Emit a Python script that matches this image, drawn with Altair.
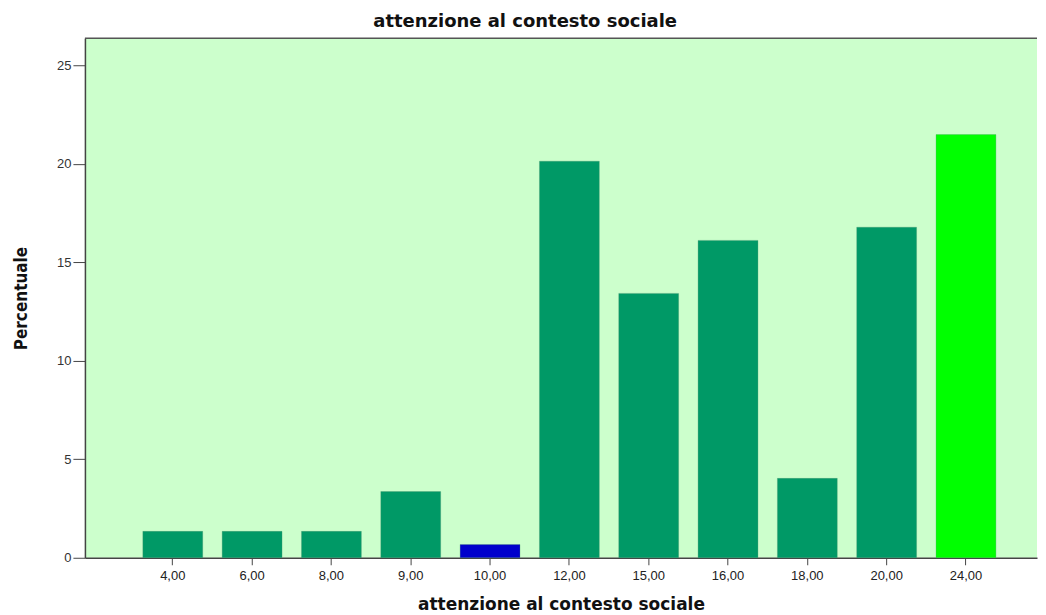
import altair as alt
import pandas as pd

categories = ["4,00", "6,00", "8,00", "9,00", "10,00", "12,00", "15,00", "16,00", "18,00", "20,00", "24,00"]
percent = [1.34, 1.34, 1.34, 3.36, 0.67, 20.13, 13.42, 16.11, 4.03, 16.78, 21.48]
colors = ["#009966", "#009966", "#009966", "#009966", "#0000cc", "#009966", "#009966", "#009966", "#009966", "#009966", "#00ff00"]
y_top = [26.37]

df = pd.DataFrame({"cat": categories, "pct": percent, "col": colors})

ysc = alt.Scale(domain=[0, 26.37], nice=False)

bars = alt.Chart(df).mark_bar(stroke="#4d8f6f", strokeWidth=0.6, strokeOpacity=0.5).encode(
    x=alt.X("cat:N", sort=categories,
            scale=alt.Scale(paddingInner=0.245, paddingOuter=0.624, align=0.585),
            axis=alt.Axis(title="attenzione al contesto sociale", labelAngle=0,
                          labelFont="Liberation Sans", labelFontSize=13, labelColor="#222",
                          titleFont="DejaVu Sans", titleFontSize=17, titleFontWeight="bold",
                          titleColor="#111", titlePadding=14,
                          tickSize=7, tickColor="#444", domainColor="#444", domainWidth=1.5,
                          labelPadding=5)),
    y=alt.Y("pct:Q", scale=ysc,
            axis=alt.Axis(title="Percentuale", values=[0, 5, 10, 15, 20, 25], grid=False,
                          labelFont="Liberation Sans", labelFontSize=13, labelColor="#333",
                          titleFont="DejaVu Sans Condensed, Liberation Sans", titleFontSize=17,
                          titleFontWeight="bold", titleColor="#111", titlePadding=26,
                          tickSize=12, tickColor="#444", domainColor="#444", domainWidth=1.5,
                          labelPadding=2)),
    color=alt.Color("col:N", scale=None),
)

top_border = alt.Chart(pd.DataFrame({"v": y_top})).mark_rule(color="#555", strokeWidth=1.5).encode(
    y=alt.Y("v:Q", scale=ysc),
)

chart = alt.layer(bars, top_border).properties(
    width=953, height=520,
    padding={"left": 4, "top": 4, "right": 0, "bottom": 0},
    title=alt.TitleParams("attenzione al contesto sociale", font="DejaVu Sans", fontSize=18,
                          fontWeight="bold", color="#111", offset=7, frame="bounds",
                          anchor="middle"),
).configure_view(
    fill="#ccffcc", stroke=None
)

chart.save("out.html", embed_options={"renderer": "svg", "actions": False})
